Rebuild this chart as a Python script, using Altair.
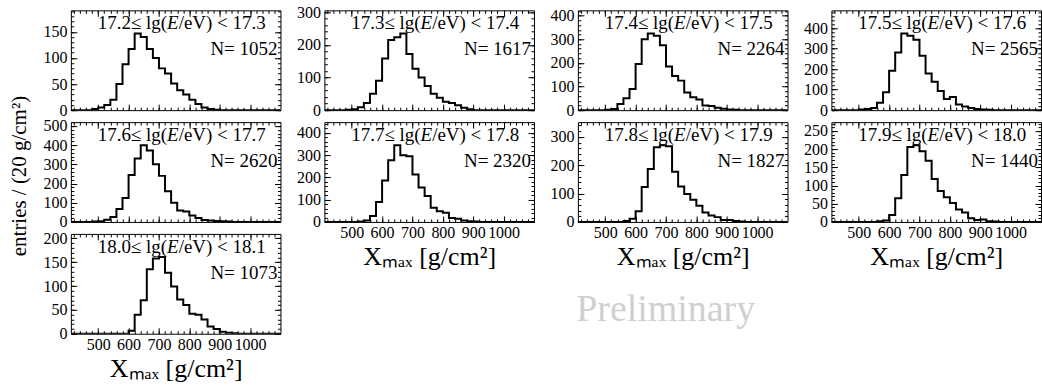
import altair as alt
import pandas as pd

FONT = "Liberation Serif"
X_MIN, X_MAX = 410, 1100
FIRST_EDGE_ALL = 400
BIN_W = 20

# energy-bin labels, split around the italic E
lab_left = ["17.2≤ lg(", "17.3≤ lg(", "17.4≤ lg(", "17.5≤ lg(", "17.6≤ lg(",
            "17.7≤ lg(", "17.8≤ lg(", "17.9≤ lg(", "18.0≤ lg("]
lab_right = ["/eV) < 17.3", "/eV) < 17.4", "/eV) < 17.5", "/eV) < 17.6", "/eV) < 17.7",
             "/eV) < 17.8", "/eV) < 17.9", "/eV) < 18.0", "/eV) < 18.1"]
n_events = [1052, 1617, 2264, 2565, 2620, 2320, 1827, 1440, 1073]

# lower edge of the first listed bin (20 g/cm2 bins)
first_edge = [480, 480, 500, 500, 480, 520, 560, 560, 600]
counts_172 = [2, 5, 10, 20, 50, 88, 117, 147, 140, 117, 100, 80, 70, 51, 38, 30, 20, 12, 5, 2, 1]
counts_173 = [1, 3, 9, 22, 50, 90, 158, 215, 223, 235, 172, 127, 100, 74, 50, 38, 26, 22, 15, 7, 3]
counts_174 = [2, 5, 26, 50, 90, 195, 300, 325, 315, 275, 185, 145, 125, 75, 55, 45, 20, 18, 10, 6, 3, 2]
counts_175 = [3, 6, 10, 36, 88, 192, 282, 375, 364, 344, 266, 179, 139, 93, 55, 64, 28, 18, 11, 6, 3, 2]
counts_176 = [2, 4, 12, 26, 68, 125, 245, 330, 400, 372, 300, 240, 160, 100, 60, 55, 34, 20, 10, 8, 5, 3, 2]
counts_177 = [2, 6, 27, 90, 186, 277, 345, 300, 295, 213, 155, 117, 64, 48, 41, 18, 14, 6, 3, 2]
counts_178 = [3, 11, 38, 123, 187, 264, 271, 267, 177, 125, 99, 78, 57, 33, 23, 17, 7, 7, 3, 2]
counts_179 = [2, 4, 19, 65, 129, 206, 211, 194, 168, 118, 85, 68, 52, 34, 26, 10, 5, 7, 2, 1]
counts_180 = [6, 40, 70, 135, 158, 161, 128, 99, 72, 60, 42, 40, 30, 15, 10, 4, 2, 1]
counts = [counts_172, counts_173, counts_174, counts_175, counts_176,
          counts_177, counts_178, counts_179, counts_180]

x_major = [500, 600, 700, 800, 900, 1000]
x_minor = list(range(420, 1100, 20))
y_major = [
    [0, 50, 100, 150], [0, 100, 200, 300], [0, 100, 200, 300, 400],
    [0, 100, 200, 300, 400], [0, 100, 200, 300, 400, 500], [0, 100, 200, 300, 400],
    [0, 100, 200, 300], [0, 50, 100, 150, 200, 250], [0, 50, 100, 150, 200],
]
y_minor_step = [10, 20, 20, 20, 20, 20, 20, 10, 10]

X_TITLE = "Xₘₐₓ [g/cm²]"
Y_TITLE = "entries / (20 g/cm²)"
PRELIM = "Preliminary"

W, H = 210, 100
MAJ, MIN = 6, 3
LAB_FS = 19


def step_frame(k):
    xs = list(range(FIRST_EDGE_ALL, X_MAX + 1, BIN_W))
    ys = [0] * len(xs)
    off = (first_edge[k] - FIRST_EDGE_ALL) // BIN_W
    for i, c in enumerate(counts[k]):
        ys[off + i] = c
    return pd.DataFrame({"x": xs, "y": ys})


def ax(orient, values, size, **kw):
    p = dict(orient=orient, values=values, tickSize=size, offset=-size,
             labels=False, domain=False, grid=False, ticks=True,
             tickColor="black", tickWidth=1, title=None)
    p.update(kw)
    return alt.Axis(**p)


def txt(s, x, y, size, align="center", style="normal", color="black", baseline="middle"):
    return alt.Chart(pd.DataFrame({"t": [s]})).mark_text(
        font=FONT, fontSize=size, align=align, baseline=baseline, color=color, fontStyle=style
    ).encode(text="t:N", x=alt.value(x), y=alt.value(y))


def panel(k, x_labels, prelim=False):
    df = step_frame(k)
    ymax = 1.3 * max(counts[k])
    xsc = alt.Scale(domain=[X_MIN, X_MAX], nice=False, zero=False)
    ysc = alt.Scale(domain=[0, ymax], nice=False, zero=False)
    ymin = list(range(0, int(ymax) + 1, y_minor_step[k]))
    base = alt.Chart(df)

    xkw = dict(labels=x_labels, labelPadding=3, labelOverlap=False, labelFlush=False,
               format="d", labelFontSize=16)
    if x_labels:
        xkw.update(title=X_TITLE, titlePadding=3, titleFontSize=26)
    ykw = dict(labels=True, labelPadding=4, labelOverlap=False, format="d")

    hist = base.mark_line(interpolate="step-after", color="black", strokeWidth=2, clip=True).encode(
        x=alt.X("x:Q", scale=xsc, axis=ax("bottom", x_major, MAJ, **xkw)),
        y=alt.Y("y:Q", scale=ysc, axis=ax("left", y_major[k], MAJ, **ykw)),
    )
    l2 = base.mark_line(opacity=0, clip=True).encode(
        x=alt.X("x:Q", scale=xsc, axis=ax("bottom", x_minor, MIN)),
        y=alt.Y("y:Q", scale=ysc, axis=ax("left", ymin, MIN)),
    )
    l3 = base.mark_line(opacity=0, clip=True).encode(
        x=alt.X("x:Q", scale=xsc, axis=ax("top", x_major, MAJ)),
        y=alt.Y("y:Q", scale=ysc, axis=ax("right", y_major[k], MAJ)),
    )
    l4 = base.mark_line(opacity=0, clip=True).encode(
        x=alt.X("x:Q", scale=xsc, axis=ax("top", x_minor, MIN)),
        y=alt.Y("y:Q", scale=ysc, axis=ax("right", ymin, MIN)),
    )
    layers = [
        hist, l2, l3, l4,
        txt(lab_left[k], 96.4, 13, LAB_FS, align="right"),
        txt("E", 96.4, 13, LAB_FS, align="left", style="italic"),
        txt(lab_right[k], 108.0, 13, LAB_FS, align="left"),
        txt(f"N= {n_events[k]}", 207, 39, 19, align="right"),
    ]
    if prelim:
        layers.append(txt(PRELIM, 88, 199, 38, color="#cfcfcf", baseline="alphabetic"))
    return alt.layer(*layers).resolve_axis(x="independent", y="independent").properties(width=W, height=H)


ytitle = alt.Chart(pd.DataFrame({"t": [Y_TITLE]})).mark_text(
    font=FONT, fontSize=21, angle=270, align="center", baseline="middle", color="black"
).encode(text="t:N", x=alt.value(15), y=alt.value(166)).properties(
    width=30, height=H, view=alt.ViewBackground(strokeWidth=0, strokeOpacity=0)
)

col1 = alt.vconcat(panel(0, False), panel(4, False), panel(8, True), spacing=-2)
col2 = alt.vconcat(panel(1, False), panel(5, True), spacing=2)
col3 = alt.vconcat(panel(2, False), panel(6, True, prelim=True), spacing=2)
col4 = alt.vconcat(panel(3, False), panel(7, True), spacing=2)

left = alt.hconcat(ytitle, col1, spacing=7)

chart = alt.hconcat(left, col2, col3, col4, spacing=14).properties(
    padding={"left": 5, "top": 3, "right": 0, "bottom": 0},
    background="white",
).configure_view(stroke="black", strokeWidth=1).configure_axis(
    labelFont=FONT, labelFontSize=16, labelColor="black",
    titleFont=FONT, titleColor="black", titleFontWeight="normal",
)

chart.save("out.html", embed_options={"renderer": "svg", "actions": False})
